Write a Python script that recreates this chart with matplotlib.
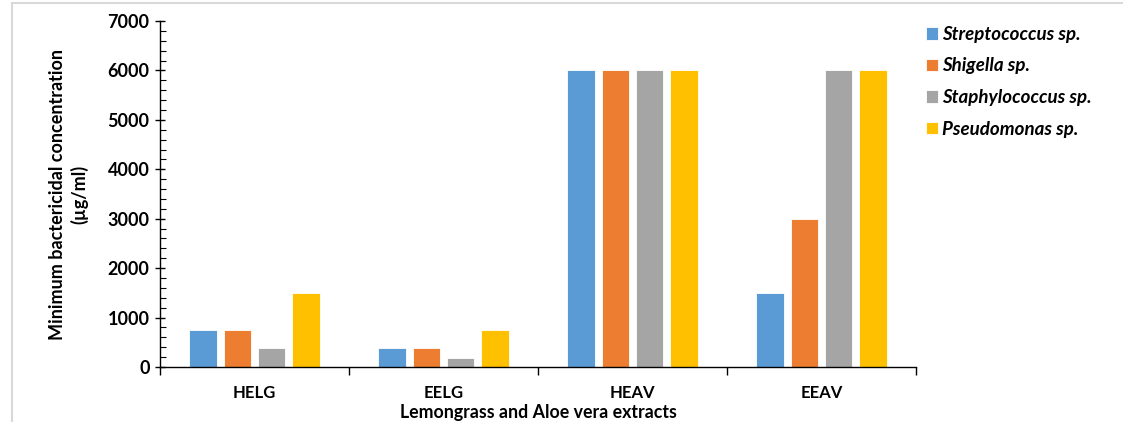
import numpy as np
import matplotlib.pyplot as plt
from matplotlib.patches import Rectangle
from matplotlib.ticker import MultipleLocator

# ----
# Data
# ----
extracts = ["HELG", "EELG", "HEAV", "EEAV"]
species = ["Streptococcus sp.", "Shigella sp.", "Staphylococcus sp.", "Pseudomonas sp."]
streptococcus = [750, 375, 6000, 1500]
shigella = [750, 375, 6000, 3000]
staphylococcus = [375, 187.5, 6000, 6000]
pseudomonas = [1500, 750, 6000, 6000]
series = [streptococcus, shigella, staphylococcus, pseudomonas]
colors = ["#5B9BD5", "#ED7D31", "#A5A5A5", "#FFC000"]

plt.rcParams['font.family'] = ['Lato', 'DejaVu Sans']

fig = plt.figure(figsize=(11.23, 4.22), dpi=100)
ax = fig.add_axes([160 / 1123, 1 - 367 / 422, 756 / 1123, 346 / 422])

# ----
# Bars
# ----
x = np.arange(len(extracts))
pitch = 0.182
width = 0.145
for i, (vals, name, c) in enumerate(zip(series, species, colors)):
    ax.bar(x + (i - 1.5) * pitch, vals, width, color=c, label=name,
           edgecolor='white', linewidth=0.6, zorder=2)

# ----
# Axes styling
# ----
ax.set_xlim(-0.5, len(extracts) - 0.5)
ax.set_ylim(0, 7000)
ax.yaxis.set_major_locator(MultipleLocator(1000))
ax.yaxis.set_minor_locator(MultipleLocator(200))
ax.tick_params(axis='y', which='major', direction='inout', length=7, width=1,
               labelsize=13, pad=4)
ax.tick_params(axis='y', which='minor', direction='in', length=4, width=0.8)
for lbl in ax.get_yticklabels():
    lbl.set_fontweight('bold')

ax.set_xticks(x)
ax.set_xticklabels(extracts, fontsize=12, fontweight='bold')
ax.tick_params(axis='x', which='major', length=0, pad=13)
ax.set_xticks(np.arange(len(extracts) + 1) - 0.5, minor=True)
ax.tick_params(axis='x', which='minor', direction='out', length=6, width=1)

for side in ['top', 'right']:
    ax.spines[side].set_visible(False)
ax.spines['left'].set_linewidth(1)
ax.spines['bottom'].set_linewidth(1)

ax.set_ylabel("Minimum bactericidal concentration\n(µg/ml)", fontsize=13,
              fontweight='bold', labelpad=14, linespacing=1.25)
ax.set_xlabel("Lemongrass and Aloe vera extracts", fontsize=12.8,
              fontweight='bold', labelpad=2)

leg = ax.legend(loc='upper left', bbox_to_anchor=(909 / 1123, 1 - 9 / 422),
                bbox_transform=fig.transFigure, frameon=False,
                prop={'size': 13.5, 'weight': 'bold', 'style': 'italic'},
                handlelength=0.65, handleheight=0.65, handletextpad=0.2,
                labelspacing=0.78)

# ----
# Outer frame
# ----
fig.patches.append(Rectangle((12 / 1123, -0.05), 1.1, 1 - 3 / 422 + 0.05,
                             transform=fig.transFigure, fill=False,
                             edgecolor='#d9d9d9', linewidth=1.5, zorder=0))

plt.savefig("out.png", dpi=100)
plt.close()
